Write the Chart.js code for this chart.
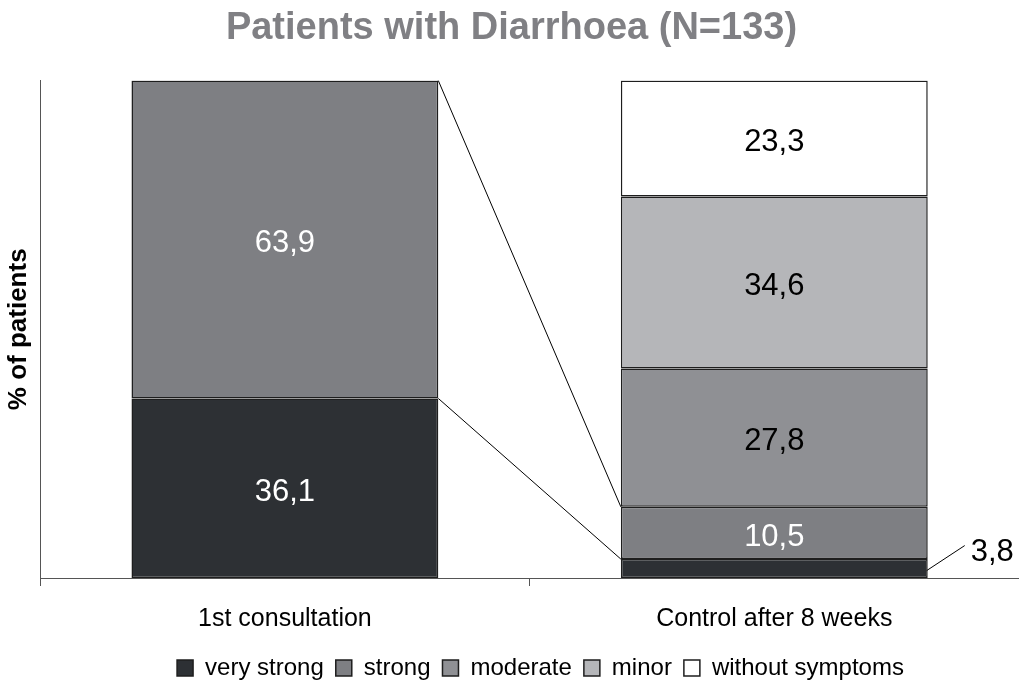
<!DOCTYPE html>
<html lang="en">
<head>
    <meta charset="UTF-8">
    <title>Patients with Diarrhoea</title>
    <script src="https://cdn.jsdelivr.net/npm/chart.js"></script>
    <style>
        body {
            margin: 0;
            padding: 0;
            background-color: #ffffff;
        }
        #chart-box {
            width: 1019px;
            height: 683px;
            position: relative;
        }
    </style>
</head>
<body>
    <div id="chart-box">
        <canvas id="diarrhoea-chart"></canvas>
    </div>

    <script>
        // values (% of patients)
        const categories = ['1st consultation', 'Control after 8 weeks'];
        const severityLabels = ['very strong', 'strong', 'moderate', 'minor', 'without symptoms'];
        const veryStrong = [36.1, 3.8];
        const strong = [63.9, 10.5];
        const moderate = [0, 27.8];
        const minor = [0, 34.6];
        const withoutSymptoms = [0, 23.3];

        const seriesValues = [veryStrong, strong, moderate, minor, withoutSymptoms];
        const fillColors = ['#2d3034', '#7e7f83', '#8f9094', '#b5b6b9', '#ffffff'];
        const labelColors = ['#ffffff', '#ffffff', '#000000', '#000000', '#000000'];
        const FONT = "'Liberation Sans', Arial, sans-serif";

        // segment labels (comma decimals) and the series lines between the bars
        const barDecorations = {
            id: 'barDecorations',
            afterLayout(chart) {
                // the legend sits a little right of centre in the original
                chart.legend.left += 29;
                chart.legend.right += 29;
            },
            afterDatasetsDraw(chart) {
                const ctx = chart.ctx;
                ctx.save();

                // series lines: top of each stack level in bar 1 -> same level in bar 2
                ctx.strokeStyle = '#000000';
                ctx.lineWidth = 1;
                [0, 1].forEach(di => {
                    const bars = chart.getDatasetMeta(di).data;
                    const a = bars[0], b = bars[1];
                    ctx.beginPath();
                    ctx.moveTo(a.x + a.width / 2, a.y);
                    ctx.lineTo(b.x - b.width / 2, b.y);
                    ctx.stroke();
                });

                ctx.font = '31px ' + FONT;
                ctx.textBaseline = 'middle';
                chart.data.datasets.forEach((ds, di) => {
                    const meta = chart.getDatasetMeta(di);
                    meta.data.forEach((bar, i) => {
                        const v = ds.data[i];
                        if (!v) return;
                        const txt = v.toFixed(1).replace('.', ',');
                        const h = Math.abs(bar.base - bar.y);
                        const cy = (bar.y + bar.base) / 2;
                        if (h < 30) {
                            // small segment: label outside with a leader line
                            const right = bar.x + bar.width / 2;
                            ctx.beginPath();
                            ctx.moveTo(right - 1, cy + 2);
                            ctx.lineTo(right + 37, cy - 23);
                            ctx.stroke();
                            ctx.fillStyle = '#000000';
                            ctx.textAlign = 'left';
                            ctx.fillText(txt, right + 43, cy - 16);
                        } else {
                            ctx.fillStyle = labelColors[di];
                            ctx.textAlign = 'center';
                            ctx.fillText(txt, bar.x, cy + 4);
                        }
                    });
                });
                ctx.restore();
            }
        };

        const datasets = severityLabels.map((name, i) => ({
            label: name,
            data: seriesValues[i],
            backgroundColor: fillColors[i],
            borderColor: '#1e1e1e',
            borderWidth: 1.5,
            borderSkipped: false,
            barPercentage: 0.627,
            categoryPercentage: 1
        }));

        const ctx = document.getElementById('diarrhoea-chart').getContext('2d');
        new Chart(ctx, {
            type: 'bar',
            data: {
                labels: categories,
                datasets: datasets
            },
            plugins: [barDecorations],
            options: {
                responsive: true,
                maintainAspectRatio: false,
                animation: false,
                layout: {
                    padding: { top: 0, left: 0, right: -4, bottom: -7 }
                },
                plugins: {
                    title: {
                        display: true,
                        text: 'Patients with Diarrhoea (N=133)',
                        color: '#808084',
                        font: { family: FONT, size: 38, weight: 'bold' },
                        padding: { top: 6, bottom: 29 }
                    },
                    legend: {
                        position: 'bottom',
                        labels: {
                            color: '#000000',
                            font: { family: FONT, size: 24 },
                            boxWidth: 16,
                            boxHeight: 16,
                            padding: 12
                        }
                    },
                    tooltip: { enabled: false }
                },
                scales: {
                    x: {
                        stacked: true,
                        offset: true,
                        grid: {
                            display: true,
                            drawOnChartArea: false,
                            drawTicks: true,
                            tickLength: 8,
                            color: '#555555',
                            offset: true
                        },
                        border: { display: true, color: '#555555', width: 1 },
                        ticks: {
                            color: '#000000',
                            font: { family: FONT, size: 25 },
                            padding: 18
                        },
                        afterFit(scale) {
                            scale.height -= 8;
                        }
                    },
                    y: {
                        stacked: true,
                        min: 0,
                        max: 100,
                        grid: { display: false, drawTicks: false },
                        border: { display: true, color: '#555555', width: 1 },
                        ticks: { display: false },
                        title: {
                            display: true,
                            text: '% of patients',
                            color: '#000000',
                            font: { family: FONT, size: 26, weight: 'bold' },
                            padding: { top: 3, bottom: 6 }
                        }
                    }
                }
            }
        });
    </script>
</body>
</html>
